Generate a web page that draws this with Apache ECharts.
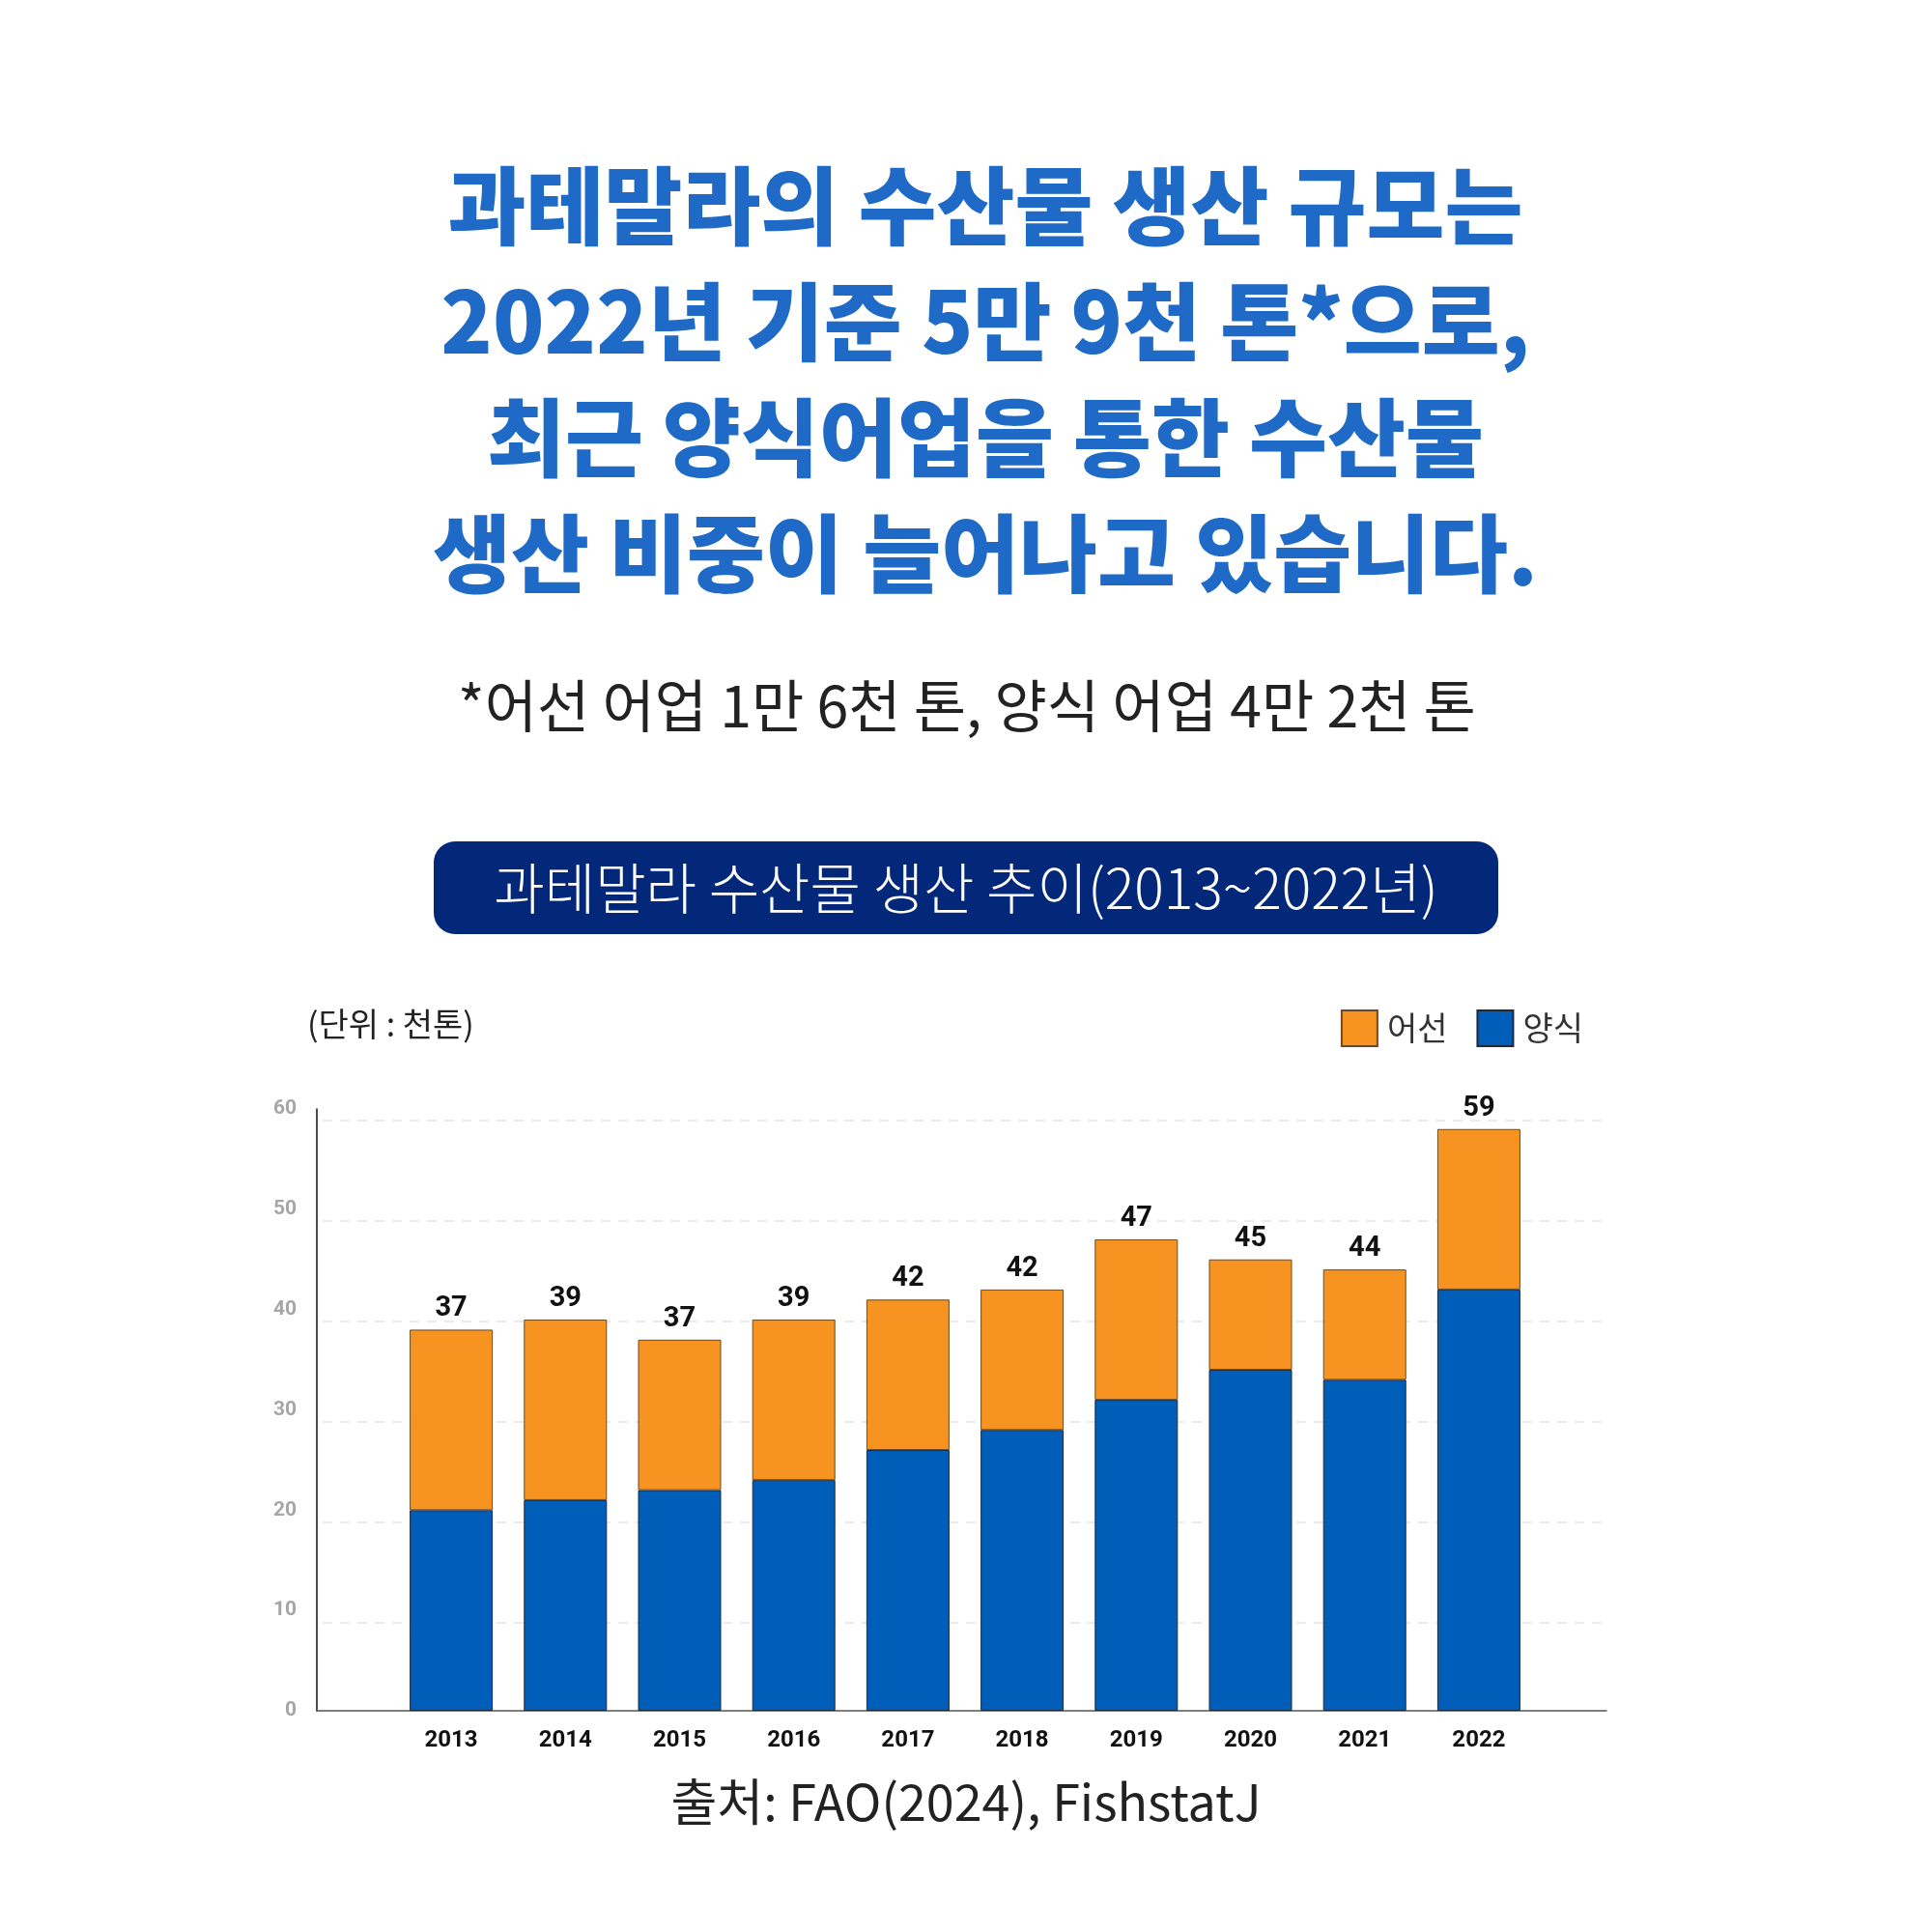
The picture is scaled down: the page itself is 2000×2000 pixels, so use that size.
<!DOCTYPE html>
<html>
<head>
<meta charset="utf-8">
<script src="https://cdn.jsdelivr.net/npm/echarts@6/dist/echarts.min.js"></script>
<style>
  html, body { margin: 0; padding: 0; background: #fff; }
  #chart { width: 2000px; height: 2000px; }
</style>
</head>
<body>
<div id="chart"></div>
<script>
// data (천톤)
var years = ['2013', '2014', '2015', '2016', '2017', '2018', '2019', '2020', '2021', '2022'];
var aquaculture = [20, 21, 22, 23, 26, 28, 31, 34, 33, 42];   // 양식
var capture = [18, 18, 15, 16, 15, 14, 16, 11, 11, 16];       // 어선
var totalLabels = [37, 39, 37, 39, 42, 42, 47, 45, 44, 59];
var seriesNames = ['어선', '양식'];

var headline = [
    '과테말라의 수산물 생산 규모는',
    '2022년 기준 5만 9천 톤*으로,',
    '최근 양식어업을 통한 수산물',
    '생산 비중이 늘어나고 있습니다.'
];
var footnote = '*어선 어업 1만 6천 톤, 양식 어업 4만 2천 톤';
var bannerText = '과테말라 수산물 생산 추이(2013~2022년)';
var unitText = '(단위 : 천톤)';
var sourceText = '출처: FAO(2024), FishstatJ';

var KR = '"Noto Sans CJK KR", "Noto Sans", sans-serif';
var NUM = 'Roboto, "Noto Sans", sans-serif';
var ORANGE = '#F69321';
var BLUE = '#005EB8';

var chart = echarts.init(document.getElementById('chart'), null, {renderer: 'canvas'});

chart.setOption({
    backgroundColor: '#ffffff',
    animation: false,
    legend: {
        data: seriesNames,
        right: 356,
        top: 1040,
        itemWidth: 37,
        itemHeight: 37,
        itemGap: 30,
        icon: 'rect',
        textStyle: {fontFamily: KR, fontSize: 34, color: '#333', padding: [0, 0, 0, 5]}
    },
    grid: [
        // frame: axis lines + y labels
        {left: 328, right: 337, top: 1148, bottom: 229},
        // dashed gridlines
        {left: 334, right: 337, top: 1160, bottom: 320},
        // bars
        {left: 408, width: 1182, top: 1148, bottom: 229}
    ],
    xAxis: [
        {
            gridIndex: 0, type: 'value', min: 0, max: 1,
            axisLine: {show: true, lineStyle: {color: '#555', width: 1.5}},
            axisTick: {show: false}, axisLabel: {show: false}, splitLine: {show: false}
        },
        {
            gridIndex: 1, type: 'value', min: 0, max: 1, show: false
        },
        {
            gridIndex: 2, type: 'category', data: years,
            axisLine: {show: false}, axisTick: {show: false},
            axisLabel: {margin: 19, fontFamily: NUM, fontWeight: 'bold', fontSize: 24, color: '#111'}
        }
    ],
    yAxis: [
        {
            gridIndex: 0, type: 'value', min: 0, max: 60, interval: 10,
            axisLine: {show: true, lineStyle: {color: '#111', width: 1.5}},
            axisTick: {show: false},
            splitLine: {show: false},
            axisLabel: {margin: 21, fontFamily: NUM, fontWeight: 'bold', fontSize: 21, color: '#a6a6a6'}
        },
        {
            gridIndex: 1, type: 'value', min: 10, max: 60, interval: 10,
            axisLine: {show: false}, axisTick: {show: false}, axisLabel: {show: false},
            splitLine: {show: true, lineStyle: {color: '#e3e3e3', width: 1.5, type: [10, 8]}}
        },
        {
            gridIndex: 2, type: 'value', min: 0, max: 60, show: false
        }
    ],
    series: [
        {
            name: '양식', type: 'bar', stack: 'total',
            xAxisIndex: 2, yAxisIndex: 2,
            data: aquaculture, barWidth: 86,
            itemStyle: {color: BLUE, borderColor: '#1d2a3a', borderWidth: 1}
        },
        {
            name: '어선', type: 'bar', stack: 'total',
            xAxisIndex: 2, yAxisIndex: 2,
            data: capture, barWidth: 86,
            itemStyle: {color: ORANGE, borderColor: '#6b4a25', borderWidth: 1},
            label: {
                show: true, position: 'top', distance: 7,
                fontFamily: NUM, fontWeight: 'bold', fontSize: 29, color: '#111',
                formatter: function (p) { return totalLabels[p.dataIndex]; }
            }
        }
    ],
    graphic: [
        {
            type: 'text', x: 1020, y: 153,
            style: {
                text: headline.join('\n'),
                font: '900 88px ' + KR,
                fill: '#1F6AC6',
                align: 'center', verticalAlign: 'top',
                lineHeight: 120
            }
        },
        {
            type: 'text', x: 1001, y: 731,
            style: {text: footnote, font: '400 59px ' + KR, fill: '#222', align: 'center', verticalAlign: 'middle'}
        },
        {
            type: 'rect',
            shape: {x: 449, y: 871, width: 1102, height: 96, r: 22},
            style: {fill: '#03287A'}
        },
        {
            type: 'text', x: 1000, y: 919,
            style: {text: bannerText, font: '300 57px ' + KR, fill: '#ffffff', align: 'center', verticalAlign: 'middle'}
        },
        {
            type: 'text', x: 318, y: 1060,
            style: {text: unitText, font: '400 34px ' + KR, fill: '#222', align: 'left', verticalAlign: 'middle'}
        },
        {
            type: 'text', x: 1000, y: 1865,
            style: {text: sourceText, font: '400 52px ' + KR, fill: '#222', align: 'center', verticalAlign: 'middle'}
        }
    ]
});
</script>
</body>
</html>
